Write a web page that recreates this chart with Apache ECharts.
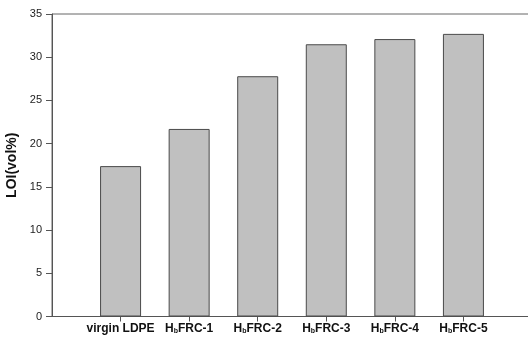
<!DOCTYPE html>
<html>
<head>
<meta charset="utf-8">
<script src="https://cdn.jsdelivr.net/npm/echarts@6/dist/echarts.min.js"></script>
<style>html,body{margin:0;padding:0;background:#fff}#c{width:528px;height:342px}</style>
</head>
<body>
<div id="c"></div>
<script>
const categories = ['virgin LDPE', 'HbFRC-1', 'HbFRC-2', 'HbFRC-3', 'HbFRC-4', 'HbFRC-5'];
const loiValues = [17.4, 21.7, 27.8, 31.5, 32.1, 32.7];
const yTicks = [0, 5, 10, 15, 20, 25, 30, 35];

const axisCats = [''].concat(categories, ['']);
const barData = [null].concat(loiValues, [null]);

const chart = echarts.init(document.getElementById('c'), null, {renderer: 'canvas'});
chart.setOption({
  animation: false,
  grid: {left: 52, top: 14, width: 480, bottom: 25.5, outerBoundsMode: 'none', containLabel: false,
    show: true, borderColor: '#666', borderWidth: 1, backgroundColor: 'transparent'},
  xAxis: {
    type: 'category',
    data: axisCats,
    boundaryGap: false,
    axisLine: {lineStyle: {color: '#555', width: 1}},
    axisTick: {show: true, inside: false, length: 5, lineStyle: {color: '#555'},
      interval: function (i) { return i > 0 && i < axisCats.length - 1; }},
    axisLabel: {
      margin: 6,
      interval: 0,
      formatter: function (v) {
        if (!v) return '';
        if (v.indexOf('Hb') === 0) return 'H{s|b}' + v.slice(2);
        return v;
      },
      fontFamily: 'Arial, Liberation Sans', fontWeight: 'bold', fontSize: 12, color: '#111',
      rich: {s: {fontFamily: 'Arial, Liberation Sans', fontWeight: 'bold', fontSize: 7, color: '#111', verticalAlign: 'bottom', padding: [4, 0, 0, 0]}}
    },
    splitLine: {show: false}
  },
  yAxis: {
    type: 'value',
    min: yTicks[0], max: yTicks[yTicks.length - 1], interval: 5,
    name: 'LOI(vol%)', nameLocation: 'middle', nameGap: 30,
    nameTextStyle: {fontFamily: 'Arial, Liberation Sans', fontWeight: 'bold', fontSize: 14, color: '#111'},
    axisLine: {show: true, lineStyle: {color: '#555', width: 1}},
    axisTick: {show: true, inside: false, length: 6, lineStyle: {color: '#555'}},
    axisLabel: {margin: 10, fontFamily: 'Arial, Liberation Sans', fontSize: 11, color: '#222'},
    splitLine: {show: false}
  },
  series: [{
    type: 'bar',
    data: barData,
    barWidth: 41,
    itemStyle: {color: '#c0c0c0', borderColor: '#4a4a4a', borderWidth: 1}
  }]
});
</script>
</body>
</html>
